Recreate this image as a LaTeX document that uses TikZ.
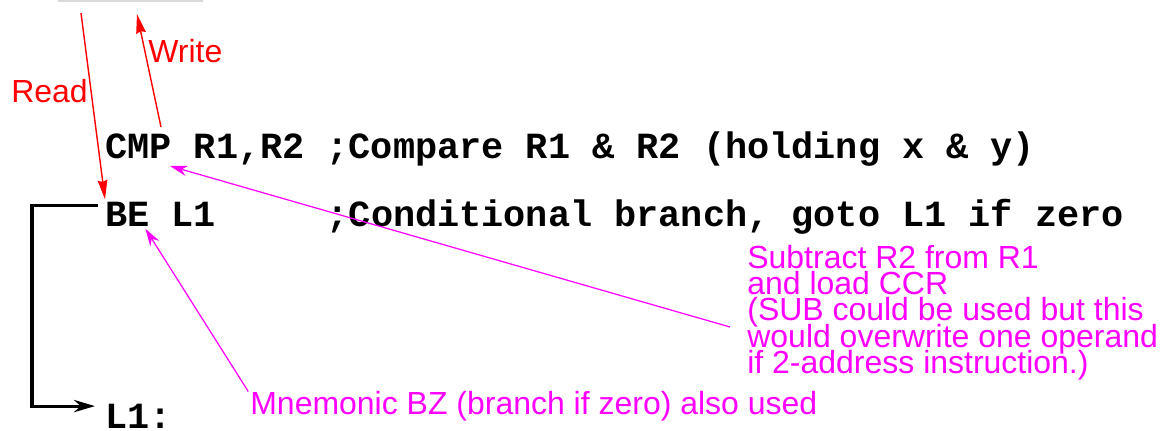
\documentclass[tikz,border=0pt]{standalone}
\usepackage{fontspec}
\setmainfont{Liberation Sans}
\setmonofont{Liberation Mono}
\usetikzlibrary{arrows.meta,positioning}
\definecolor{notemag}{RGB}{255,0,255}
\definecolor{memred}{RGB}{255,0,0}

\begin{document}
\begin{tikzpicture}[x=0.02cm,y=-0.02cm,
  code/.style={anchor=base west,inner sep=0pt,
    font=\ttfamily\bfseries\fontsize{21}{24}\selectfont},
  note/.style={inner sep=0pt,
    font={\fontsize{18.2}{14.9}\selectfont\lineskiplimit-100pt\relax}},
  memarrow/.style={memred,line width=0.8pt,-{Stealth[length=11pt,width=5.5pt,inset=1pt]}},
  notearrow/.style={notemag,line width=0.7pt,-{Stealth[length=10pt,width=6pt]}},
  branch/.style={line width=1.8pt,-{Stealth[length=12pt,width=7pt]}}]
\useasboundingbox (0,0) rectangle (1161,431);

% Memory (bottom edge only)
\draw[gray!30,line width=1.4pt] (58,1) -- (203,1);
\coordinate (rdfrom) at (81,13);
\coordinate (wrto) at (137,14);
\coordinate (wrfrom) at (161,127);

% Code lines
\node[code] (cmp) at (105,159) {CMP R1,R2 ;Compare R1 \& R2 (holding x \& y)};
\node[code] (be) at (105,227) {BE L1~~~~~;Conditional branch, goto L1 if zero};
\node[code] (lone) at (105,429) {L1:};

% Read / Write
\node[note,anchor=base west,memred] (rdlabel) at (11,103) {Read};
\node[note,anchor=base west,memred] (wrlabel) at (148,63) {Write};
\draw[memarrow] (rdfrom) -- (be.north west);
\draw[memarrow] (wrfrom) -- (wrto);

% Branch to L1
\draw[branch] ([xshift=-4pt,yshift=-3.4pt]be.north west) -- ++(-66,0)
  |- ([xshift=-5.7pt,yshift=-1pt]lone.north west);

% Notes
\node[note,anchor=north west,align=left,notemag] (subnote) at (747,245)
  {Subtract R2 from R1\\and load CCR\\(SUB could be used but this\\would overwrite one operand\\if 2-address instruction.)};
\coordinate (subfrom) at (730,327);
\draw[notearrow] (subfrom) -- ([xshift=37pt,yshift=-4pt]cmp.base west);

\node[note,anchor=base west,notemag] (bznote) at (250,415)
  {Mnemonic BZ (branch if zero) also used};
\draw[notearrow] ([xshift=-1pt]bznote.north west) -- ([xshift=23pt,yshift=-1pt]be.base west);
\end{tikzpicture}
\end{document}
